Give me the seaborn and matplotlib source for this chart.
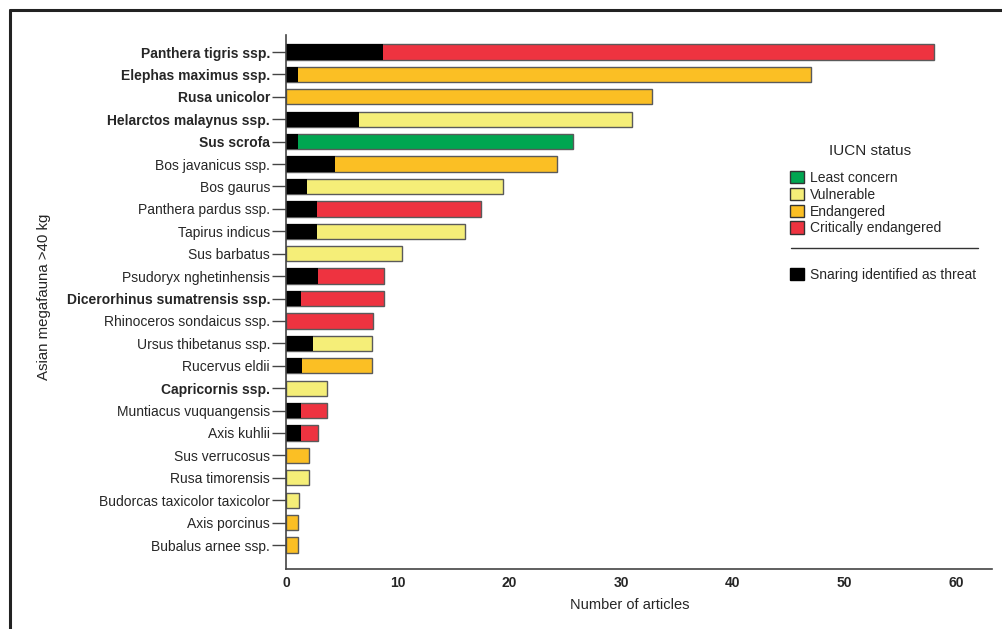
import pandas as pd
import seaborn as sns
import matplotlib.pyplot as plt
from matplotlib.patches import Patch
from matplotlib.lines import Line2D

species = [
    "Panthera tigris ssp.", "Elephas maximus ssp.", "Rusa unicolor",
    "Helarctos malaynus ssp.", "Sus scrofa", "Bos javanicus ssp.",
    "Bos gaurus", "Panthera pardus ssp.", "Tapirus indicus", "Sus barbatus",
    "Psudoryx nghetinhensis", "Dicerorhinus sumatrensis ssp.",
    "Rhinoceros sondaicus ssp.", "Ursus thibetanus ssp.", "Rucervus eldii",
    "Capricornis ssp.", "Muntiacus vuquangensis", "Axis kuhlii",
    "Sus verrucosus", "Rusa timorensis", "Budorcas taxicolor taxicolor",
    "Axis porcinus", "Bubalus arnee ssp.",
]
total_articles = [58, 47, 32.8, 31, 25.7, 24.3, 19.4, 17.5, 16, 10.4,
                  8.8, 8.8, 7.8, 7.7, 7.7, 3.7, 3.7, 2.9, 2.1, 2.1, 1.2, 1.1, 1.1]
snaring_articles = [8.7, 1.1, 0, 6.5, 1.1, 4.4, 1.9, 2.8, 2.8, 0,
                    2.9, 1.3, 0, 2.4, 1.4, 0, 1.3, 1.3, 0, 0, 0, 0, 0]
status = ["CR", "EN", "EN", "VU", "LC", "EN", "VU", "CR", "VU", "VU",
          "CR", "CR", "CR", "VU", "EN", "VU", "CR", "CR", "EN", "VU", "VU", "EN", "EN"]
bold_species = ["Panthera tigris ssp.", "Elephas maximus ssp.", "Rusa unicolor",
                "Helarctos malaynus ssp.", "Sus scrofa",
                "Dicerorhinus sumatrensis ssp.", "Capricornis ssp."]

status_names = {"LC": "Least concern", "VU": "Vulnerable",
                "EN": "Endangered", "CR": "Critically endangered"}
status_colors = {"LC": "#00a651", "VU": "#f5ee78", "EN": "#fbbf24", "CR": "#ee3340"}

df = pd.DataFrame({"species": species, "total": total_articles,
                   "snaring": snaring_articles, "status": status})

sns.set_style("white")
plt.rcParams["font.family"] = ["Liberation Sans", "DejaVu Sans"]

W, H = 1003, 629
fig = plt.figure(figsize=(W / 100, H / 100), dpi=100)
# axes box in pixels: x 286..992, y 35..569
ax = fig.add_axes([286 / W, 1 - 569 / H, (992 - 286) / W, (569 - 35) / H])

edge = "#5a5a5a"
sns.barplot(data=df, y="species", x="total", hue="status", palette=status_colors,
            saturation=1, dodge=False, width=0.68, edgecolor=edge, linewidth=1.0,
            legend=False, ax=ax, orient="h")
sns.barplot(data=df, y="species", x="snaring", color="black", saturation=1,
            width=0.68, edgecolor="none", linewidth=0, ax=ax, orient="h")

ax.set_xlim(0, 63.2)
ax.set_ylim(len(species) - 1 + 1.07, -0.76)
ax.set_xticks([0, 10, 20, 30, 40, 50, 60])
ax.set_xticks([5, 15, 25, 35, 45, 55], minor=True)
ax.tick_params(axis="x", which="major", length=0, labelsize=10, pad=5)
ax.tick_params(axis="x", which="minor", length=2, color="#888888", direction="in")
for lab in ax.get_xticklabels():
    lab.set_fontweight("bold")
ax.tick_params(axis="y", length=10, width=1, color="#444444", labelsize=10, pad=1.5, left=True)
for lab in ax.get_yticklabels():
    if lab.get_text() in bold_species:
        lab.set_fontweight("bold")

for side in ["top", "right"]:
    ax.spines[side].set_visible(False)
for side in ["left", "bottom"]:
    ax.spines[side].set_color("#444444")
    ax.spines[side].set_linewidth(1.2)

ax.set_xlabel("Number of articles", fontsize=10.5)
ax.xaxis.set_label_coords((630 - 286) / (992 - 286), -(598 - 569) / (569 - 35))
ax.set_ylabel("Asian megafauna >40 kg", fontsize=10.8)
ax.yaxis.set_label_coords((51 - 286) / (992 - 286), (569 - 297) / (569 - 35))

# legend for IUCN status
fig.text(870 / W, 1 - 151 / H, "IUCN status", ha="center", va="center", fontsize=11)
handles = [Patch(facecolor=status_colors[k], edgecolor="#333333", label=status_names[k])
           for k in ["LC", "VU", "EN", "CR"]]
fig.legend(handles=handles, loc="upper left", bbox_to_anchor=(790 / W, 1 - 171 / H),
           frameon=False, fontsize=10, handlelength=1.0, handleheight=1.0,
           handletextpad=0.45, labelspacing=0.2, borderaxespad=0, borderpad=0)
fig.legend(handles=[Patch(facecolor="black", edgecolor="black",
                          label="Snaring identified as threat")],
           loc="upper left", bbox_to_anchor=(790 / W, 1 - 268 / H), frameon=False,
           fontsize=10, handlelength=1.0, handleheight=1.0,
           handletextpad=0.45, borderaxespad=0, borderpad=0)
fig.add_artist(Line2D([791 / W, 978 / W], [1 - 248 / H, 1 - 248 / H],
                      color="#333333", linewidth=1))

# outer frame of the original figure (left and top edges)
fig.add_artist(Line2D([10 / W, 10 / W], [0, 1 - 10 / H], color="#222222", linewidth=2.2))
fig.add_artist(Line2D([10 / W, 1], [1 - 10 / H, 1 - 10 / H], color="#222222", linewidth=2.2))

fig.savefig("out.png", dpi=100)
plt.close(fig)
